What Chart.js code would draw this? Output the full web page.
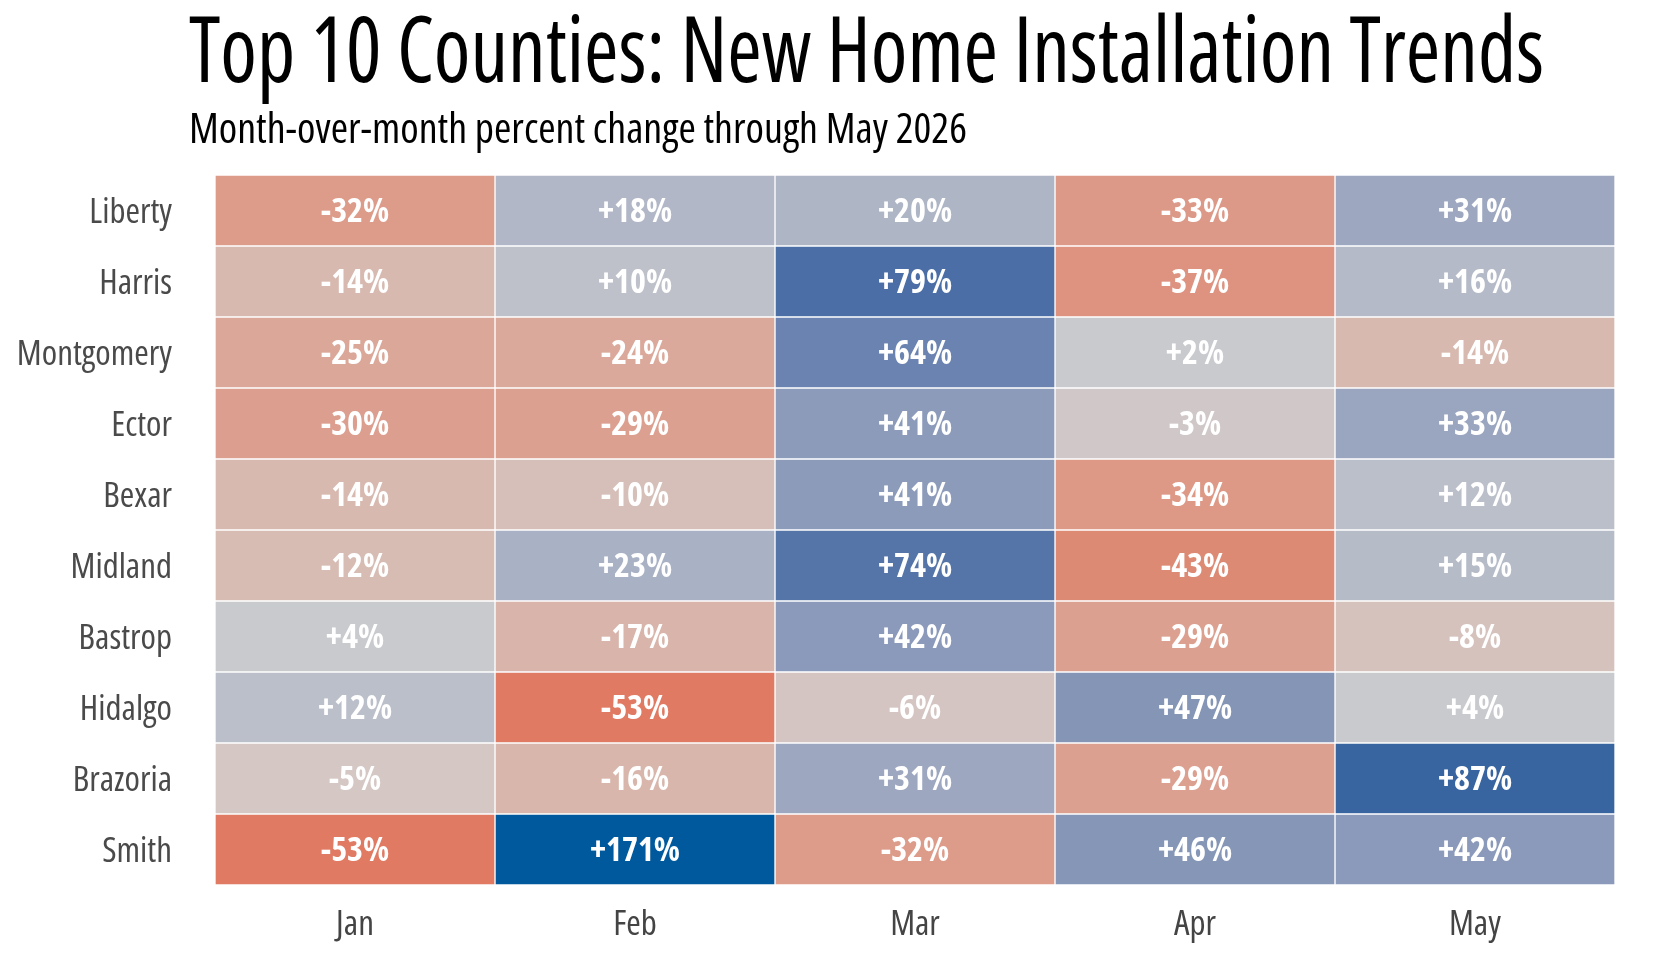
<!DOCTYPE html>
<html>
<head>
<meta charset="utf-8">
<title>Top 10 Counties: New Home Installation Trends</title>
<script src="https://cdn.jsdelivr.net/npm/chart.js@4.4.1/dist/chart.umd.min.js"></script>
<style>
  html, body { margin: 0; padding: 0; background: #ffffff; }
  #wrap { width: 1660px; height: 960px; position: relative; }
</style>
</head>
<body>
<div id="wrap"><canvas id="heat"></canvas></div>
<script>
// Data
const counties = ["Liberty", "Harris", "Montgomery", "Ector", "Bexar", "Midland", "Bastrop", "Hidalgo", "Brazoria", "Smith"];
const months = ["Jan", "Feb", "Mar", "Apr", "May"];

const jan = [-32, -14, -25, -30, -14, -12, 4, 12, -5, -53];
const feb = [18, 10, -24, -29, -10, 23, -17, -53, -16, 171];
const mar = [20, 79, 64, 41, 41, 74, 42, -6, 31, -32];
const apr = [-33, -37, 2, -3, -34, -43, -29, 47, -29, 46];
const may = [31, 16, -14, 33, 12, 15, -8, 4, 87, 42];

const monthValues = [jan, feb, mar, apr, may];

const titleText = "Top 10 Counties: New Home Installation Trends";
const subtitleText = "Month-over-month percent change through May 2026";

// pick the narrowest installed sans face (the original uses a condensed font)
const probe = document.createElement("canvas").getContext("2d");
const candidates = [
  { family: '"Liberation Sans Narrow"', stretch: "normal" },
  { family: '"DejaVu Sans Condensed"', stretch: "normal" },
  { family: '"DejaVu Sans"', stretch: "condensed" },
  { family: '"Noto Sans"', stretch: "extra-condensed" },
  { family: '"Noto Sans"', stretch: "condensed" },
  { family: '"Open Sans"', stretch: "condensed" },
  { family: '"Roboto Condensed"', stretch: "normal" },
  { family: "Roboto", stretch: "condensed" },
  { family: '"Liberation Sans"', stretch: "normal" }
];
function widthOf(str, text) {
  probe.font = "10px monospace";
  probe.font = str;
  if (probe.font === "10px monospace") return Infinity;
  return probe.measureText(text).width;
}
let picked = candidates[candidates.length - 1];
let best = Infinity;
candidates.forEach(c => {
  const w = widthOf(c.stretch + " 40px " + c.family + ", monospace", "Montgomery");
  const w2 = widthOf(c.stretch + " 40px " + c.family + ", serif", "Montgomery");
  if (w !== w2) return; // family not installed
  if (w < best - 0.5) { best = w; picked = c; }
});
const FAMILY = picked.family + ', "Liberation Sans", sans-serif';
const STRETCH = picked.stretch;

// tick font size so that "Montgomery" spans about 157px
const tickSize = Math.min(40, Math.floor(40 * 158 / widthOf(STRETCH + " 40px " + FAMILY, "Montgomery")));

// diverging colour scale (red -> grey -> blue)
const colorStops = [
  [-53, [224, 122, 98]],
  [-43, [221, 138, 116]],
  [-33, [221, 153, 136]],
  [-25, [219, 167, 153]],
  [-14, [215, 185, 176]],
  [-5,  [213, 199, 196]],
  [0,   [201, 202, 205]],
  [4,   [201, 202, 205]],
  [10,  [190, 193, 202]],
  [18,  [177, 183, 198]],
  [31,  [157, 167, 192]],
  [42,  [139, 154, 186]],
  [47,  [133, 149, 182]],
  [64,  [106, 131, 176]],
  [79,  [74, 110, 165]],
  [87,  [56, 101, 159]],
  [171, [0, 89, 156]]
];

function colorFor(v) {
  if (v <= colorStops[0][0]) return "rgb(" + colorStops[0][1].join(",") + ")";
  for (let i = 1; i < colorStops.length; i++) {
    const [v1, c1] = colorStops[i];
    if (v <= v1) {
      const [v0, c0] = colorStops[i - 1];
      const t = (v - v0) / (v1 - v0);
      const c = c0.map((a, k) => Math.round(a + (c1[k] - a) * t));
      return "rgb(" + c.join(",") + ")";
    }
  }
  return "rgb(" + colorStops[colorStops.length - 1][1].join(",") + ")";
}

function fmt(v) {
  return (v > 0 ? "+" : "") + v + "%";
}

// Titles, squeezed to the reference widths
const titlePlugin = {
  id: "titles",
  afterDraw(chart) {
    const ctx = chart.ctx;
    const drawFit = (text, size, x, y, width) => {
      ctx.save();
      ctx.font = STRETCH + " " + size + "px " + FAMILY;
      ctx.fillStyle = "#000000";
      ctx.textBaseline = "alphabetic";
      ctx.textAlign = "left";
      const w = ctx.measureText(text).width;
      ctx.translate(x, y);
      ctx.scale(width / w, 1);
      ctx.fillText(text, 0, 0);
      ctx.restore();
    };
    drawFit(titleText, 92, 189, 82, 1355);
    drawFit(subtitleText, 42, 189, 143, 778);
  }
};

// value labels in the centre of each cell
const cellLabels = {
  id: "cellLabels",
  afterDatasetsDraw(chart) {
    const ctx = chart.ctx;
    ctx.save();
    ctx.font = STRETCH + " bold 34px " + FAMILY;
    ctx.fillStyle = "#ffffff";
    ctx.textAlign = "center";
    ctx.textBaseline = "middle";
    const sx = Math.min(1, 69 / ctx.measureText("-32%").width);
    chart.data.datasets.forEach((ds, di) => {
      const meta = chart.getDatasetMeta(di);
      meta.data.forEach((bar, i) => {
        const p = bar.getCenterPoint();
        ctx.save();
        ctx.translate(p.x, p.y + 2);
        ctx.scale(sx, 1);
        ctx.fillText(fmt(monthValues[di][i]), 0, 0);
        ctx.restore();
      });
    });
    ctx.restore();
  }
};

const datasets = months.map((m, mi) => ({
  label: m,
  data: counties.map(() => [mi, mi + 1]),
  backgroundColor: monthValues[mi].map(colorFor),
  borderColor: "#ffffff",
  borderWidth: 1,
  borderSkipped: false,
  barPercentage: 1,
  categoryPercentage: 1,
  grouped: false
}));

const ctx = document.getElementById("heat").getContext("2d");
const chart = new Chart(ctx, {
  type: "bar",
  data: { labels: counties, datasets: datasets },
  options: {
    indexAxis: "y",
    responsive: true,
    maintainAspectRatio: false,
    animation: false,
    layout: { padding: { top: 175, right: 45, bottom: 0, left: 0 } },
    plugins: {
      legend: { display: false },
      tooltip: { enabled: false },
      title: { display: false }
    },
    scales: {
      x: {
        type: "linear",
        min: 0,
        max: 5,
        grid: { display: false, drawTicks: false },
        border: { display: false },
        afterBuildTicks(axis) {
          axis.ticks = months.map((m, i) => ({ value: i + 0.5 }));
        },
        afterFit(axis) { axis.height = 75; },
        ticks: {
          padding: 19,
          color: "#444444",
          font: { family: FAMILY, size: tickSize, weight: STRETCH },
          callback: (v, i) => months[i]
        }
      },
      y: {
        type: "category",
        offset: true,
        grid: { display: false, drawTicks: false },
        border: { display: false },
        afterFit(axis) { axis.width = 215; },
        ticks: {
          padding: 43,
          labelOffset: 3,
          color: "#4a4a4a",
          font: { family: FAMILY, size: tickSize, weight: STRETCH }
        }
      }
    }
  },
  plugins: [titlePlugin, cellLabels]
});
</script>
</body>
</html>
